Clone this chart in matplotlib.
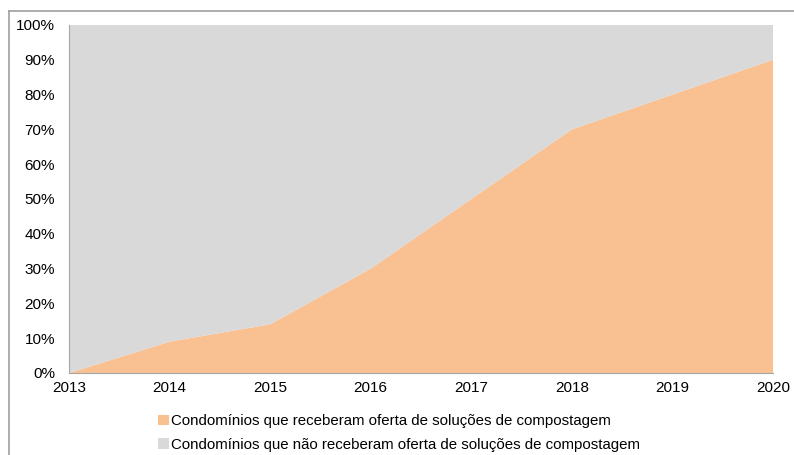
import matplotlib
matplotlib.use("Agg")
import matplotlib.pyplot as plt
from matplotlib.patches import Rectangle
from matplotlib.lines import Line2D

years = [2013, 2014, 2015, 2016, 2017, 2018, 2019, 2020]
received = [0, 9, 14, 30, 50, 70, 80, 90]
not_received = [100 - v for v in received]
labels = ["Condomínios que receberam oferta de soluções de compostagem",
          "Condomínios que não receberam oferta de soluções de compostagem"]
yticks = [0, 10, 20, 30, 40, 50, 60, 70, 80, 90, 100]

orange = "#F9C192"
gray = "#D9D9D9"

plt.rcParams['font.family'] = ['Liberation Sans', 'DejaVu Sans']

fig = plt.figure(figsize=(7.94, 4.55), dpi=100)
W, H = 794, 455
ax = fig.add_axes([69 / W, 1 - 373 / H, (773 - 69) / W, (373 - 25) / H])

ax.stackplot(years, received, not_received, colors=[orange, gray], linewidth=0)
ax.set_xlim(years[0], years[-1])
ax.set_ylim(0, 100)
ax.set_xticks(years)
ax.set_xticklabels([str(y) for y in years], fontsize=11)
ax.set_yticks(yticks)
ax.set_yticklabels([f"{v}%" for v in yticks], fontsize=11)
ax.tick_params(axis='x', length=0, pad=6)
ax.tick_params(axis='y', length=0, pad=10)
for s in ["top", "right"]:
    ax.spines[s].set_visible(False)
ax.spines["left"].set_color("#A6A6A6")
ax.spines["bottom"].set_color("#A6A6A6")

# outer frame
fig.add_artist(Line2D([9 / W, 9 / W], [0, 1 - 11 / H], color="#A0A0A0", lw=1.2, transform=fig.transFigure))
fig.add_artist(Line2D([9 / W, 1], [1 - 11 / H, 1 - 11 / H], color="#A0A0A0", lw=1.2, transform=fig.transFigure))

handles = [Rectangle((0, 0), 1, 1, facecolor=orange, edgecolor='none'),
           Rectangle((0, 0), 1, 1, facecolor=gray, edgecolor='none')]
fig.legend(handles, labels, loc='center', bbox_to_anchor=(399 / W, 1 - 433 / H),
           frameon=False, fontsize=10.8, handlelength=0.7, handleheight=0.7,
           handletextpad=0.15, labelspacing=0.62, borderpad=0)

fig.savefig("out.png", dpi=100)
